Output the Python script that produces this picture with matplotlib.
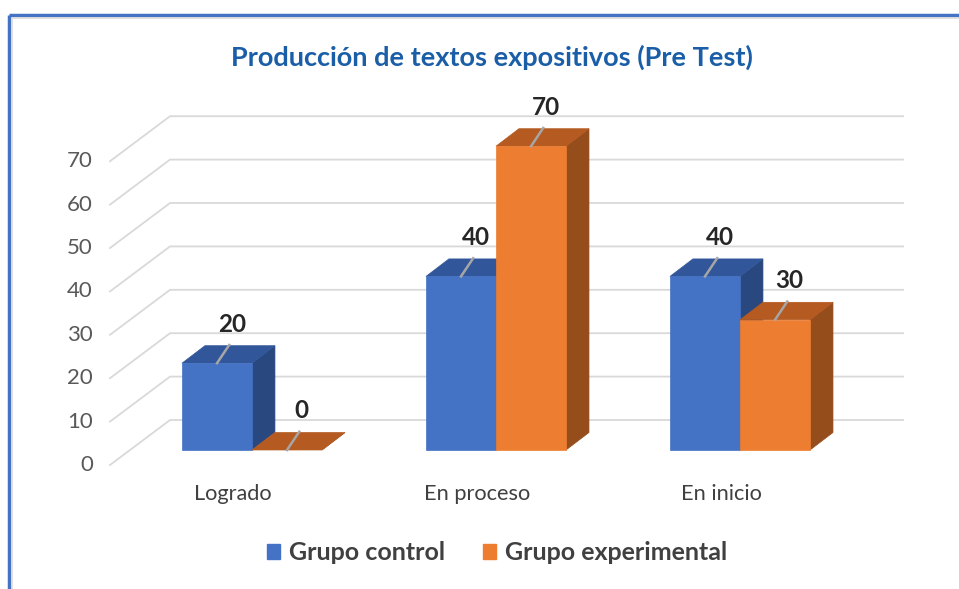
import matplotlib
matplotlib.use('Agg')
import matplotlib.pyplot as plt
from matplotlib.patches import Polygon, Patch
from matplotlib.lines import Line2D

# datos del grafico
categorias = ['Logrado', 'En proceso', 'En inicio']
series = ['Grupo control', 'Grupo experimental']
grupo_control = [20, 40, 40]
grupo_experimental = [0, 70, 30]
ticks_y = [0, 10, 20, 30, 40, 50, 60, 70]

# colores (frente, tapa, lado)
col_azul = ('#4472C4', '#31569A', '#2A4880')
col_naranja = ('#ED7D31', '#B55A20', '#954D1C')

plt.rcParams['font.family'] = ['Lato', 'DejaVu Sans']

fig = plt.figure(figsize=(9.59, 5.89), dpi=100)
ax = fig.add_axes([0, 0, 1, 1])
ax.set_xlim(-1.0328, 2.8975)
ax.set_ylim(-32.03, 103.69)
ax.axis('off')

# profundidad de la "pared" y de las barras (en unidades de datos)
pared_x0, pared_y0 = -0.582, -3.46
pared_x1, pared_y1 = -0.336, 6.91
fin_x = 2.668
ancho = 0.287
prof_dx, prof_dy = 0.094, 4.03

# lineas de la grilla 3D
for v in ticks_y:
    ax.plot([pared_x0, pared_x1, fin_x], [v + pared_y0, v + pared_y1, v + pared_y1],
            color='#D9D9D9', lw=1.3, zorder=1, solid_joinstyle='miter')
    ax.text(pared_x0 - 0.07, v + pared_y0, str(v), ha='right', va='center',
            fontsize=16, color='#595959')


def barra3d(x0, valor, colores, z):
    frente, tapa, lado = colores
    x1 = x0 + ancho
    ax.add_patch(Polygon([(x1, 0), (x1 + prof_dx, prof_dy), (x1 + prof_dx, valor + prof_dy), (x1, valor)],
                         closed=True, facecolor=lado, edgecolor=lado, lw=0.5, zorder=z))
    ax.add_patch(Polygon([(x0, valor), (x0 + prof_dx, valor + prof_dy), (x1 + prof_dx, valor + prof_dy), (x1, valor)],
                         closed=True, facecolor=tapa, edgecolor=tapa, lw=0.5, zorder=z))
    if valor > 0:
        ax.add_patch(Polygon([(x0, 0), (x1, 0), (x1, valor), (x0, valor)],
                             closed=True, facecolor=frente, edgecolor=frente, lw=0.5, zorder=z))
    xc = x0 + ancho / 2
    ax.plot([xc, xc + 0.05], [valor, valor + 4.2], color='#A6A6A6', lw=1.8, zorder=z + 0.5)
    ax.text(xc + 0.06, valor + 9, str(valor), ha='center', va='center',
            fontsize=17.5, fontweight='bold', color='#262626', zorder=z + 1)


for i in range(len(categorias)):
    barra3d(i - ancho, grupo_control[i], col_azul, 3 + i * 2)
    barra3d(i, grupo_experimental[i], col_naranja, 4 + i * 2)
    ax.text(i - 0.078, -10.1, categorias[i], ha='center', va='center',
            fontsize=15.7, color='#404040')

ax.text(492 / 959, 1 - 57 / 589, 'Producción de textos expositivos (Pre Test)', transform=fig.transFigure,
        ha='center', va='center', fontsize=19.5, fontweight='bold', color='#1B5EA8')

handles = [Patch(facecolor=col_azul[0], edgecolor=col_azul[0]),
           Patch(facecolor=col_naranja[0], edgecolor=col_naranja[0])]
leg = fig.legend(handles, series, loc='center', bbox_to_anchor=(497 / 959, 1 - 553 / 589),
                 ncol=2, frameon=False, handlelength=0.55, handleheight=0.55,
                 handletextpad=0.35, columnspacing=1.5,
                 prop={'size': 18, 'weight': 'bold'})
for t in leg.get_texts():
    t.set_color('#404040')

# marco del grafico
borde = dict(transform=fig.transFigure, solid_capstyle='butt')
fig.add_artist(Line2D([9 / 959, 9 / 959], [-0.01, 1 - 15 / 589], color='#4472C4', lw=2.5, **borde))
fig.add_artist(Line2D([9 / 959, 1.01], [1 - 15 / 589, 1 - 15 / 589], color='#4472C4', lw=2.5, **borde))
fig.add_artist(Line2D([11.5 / 959, 11.5 / 959], [-0.01, 1 - 17.5 / 589], color='#DADADA', lw=1.2, **borde))
fig.add_artist(Line2D([11.5 / 959, 1.01], [1 - 17.5 / 589, 1 - 17.5 / 589], color='#DADADA', lw=1.2, **borde))

fig.savefig('out.png', dpi=100)
